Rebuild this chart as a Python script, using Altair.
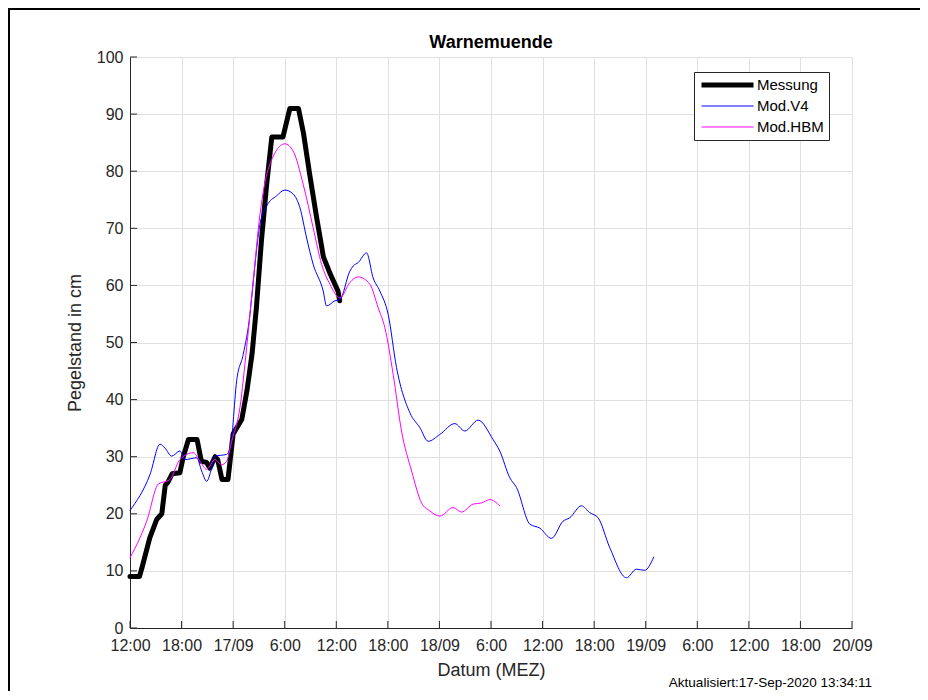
import altair as alt
import pandas as pd

# ---- data (hours since 16/09 12:00, water level in cm) ----
messung_h = [0, 1.1, 1.4, 2.3, 3.1, 3.7, 4.1, 4.4, 4.9, 5.8, 6.2, 6.8, 7.8, 8.3, 8.9, 9.3,
             9.9, 10.2, 10.7, 11.4, 12.0, 12.4, 13.0, 13.6, 14.2, 14.7, 15.3, 15.9, 16.5,
             17.8, 18.6, 19.6, 20.2, 20.9, 21.7, 22.5, 23.3, 24.2, 24.4]
messung_cm = [9, 9, 10.6, 15.8, 19, 20, 25, 25.5, 27, 27.2, 30, 33, 33, 29.2, 29, 28,
              30, 29.5, 26, 26, 34, 35, 36.5, 41.5, 48, 56, 68, 77.7, 86,
              86, 91, 91, 86.5, 79.5, 72, 65, 62, 59, 57.3]

v4_h = [0, 2.33, 3.49, 4.07, 4.85, 5.81, 6.4, 7.76, 8.34, 8.92, 9.5, 9.88, 11.24, 11.83,
        12.0, 12.41, 13.17, 13.95, 14.15, 15.12, 15.9, 17.06, 18.02, 18.99, 19.77, 20.55,
        21.31, 22.48, 22.87, 23.84, 24.42, 25.58, 25.97, 26.55, 27.52, 28.29, 29.07, 30.04,
        31.01, 32.56, 33.72, 34.69, 36.05, 37.79, 38.95, 40.5, 42.24, 43.02, 44.19, 44.97,
        46.51, 47.67, 49.03, 50.38, 51.16, 52.52, 53.49, 54.46, 55.81, 57.76, 58.92, 59.88,
        60.93]
v4_cm = [20.6, 26.9, 32.2, 31.5, 30.1, 31, 29.5, 29.8, 27.5, 25.7, 28, 30.1, 30.4, 32.7,
         36, 43.3, 47.9, 54.9, 57.8, 70.7, 73.9, 75.7, 76.7, 76, 73.6, 68.3,
         63.7, 59, 56.4, 57.3, 57.5, 62.5, 63.4, 64, 65.7, 61.3, 59, 54.9,
         45.6, 37.7, 35.1, 32.7, 33.9, 35.8, 34.5, 36.4, 33, 31, 26.3, 24.6,
         18.2, 17.5, 15.7, 18.7, 19.3, 21.4, 20.2, 19.3, 14.1, 8.8, 10.3, 10.1,
         12.4]

hbm_h = [0, 1.16, 1.94, 3.29, 4.65, 5.81, 7.36, 8.14, 8.92, 9.88, 10.66, 11.24, 11.83,
         12.79, 13.57, 14.34, 15.12, 16.08, 18.02, 18.99, 20.15, 21.31, 22.29, 23.26,
         24.42, 25.58, 26.55, 27.91, 28.87, 29.65, 30.62, 31.59, 32.76, 33.92, 34.88,
         36.05, 37.59, 38.57, 39.92, 40.9, 41.86, 43.02]
hbm_cm = [12.3, 15.8, 18.7, 25.2, 26, 29.5, 30.7, 29.2, 27.8, 29.5, 28.6, 29.2, 32.7,
          38.6, 49.1, 60.8, 72.4, 80.3, 84.8, 83.5, 77.7, 70.1, 63.7, 60.2,
          57.8, 60.5, 61.5, 60.2, 56.1, 52.6, 44.4, 34.5, 27.5, 21.9, 20.5,
          19.6, 21.1, 20.3, 21.7, 21.9, 22.5, 21.4]

series_names = ["Messung", "Mod.V4", "Mod.HBM"]
series_colors = ["#000000", "#0000ff", "#ff00ff"]
series_widths = [5, 1, 1]
series_interp = ["linear", "monotone", "monotone"]

x_tick_hours = list(range(0, 85, 6))
x_tick_labels = ["12:00", "18:00", "17/09", "6:00", "12:00", "18:00", "18/09", "6:00",
                 "12:00", "18:00", "19/09", "6:00", "12:00", "18:00", "20/09"]
y_ticks = list(range(0, 101, 10))

title_text = "Warnemuende"
x_title = "Datum (MEZ)"
y_title = "Pegelstand in cm"
footnote = "Aktualisiert:17-Sep-2020 13:34:11"

FONT = "Liberation Sans"
W, H = 722, 571

# ---- build table ----
frames = []
for name, hs, vs in zip(series_names, [messung_h, v4_h, hbm_h], [messung_cm, v4_cm, hbm_cm]):
    frames.append(pd.DataFrame({"h": hs, "cm": vs, "series": name}))
df = pd.concat(frames, ignore_index=True)

label_js = "[" + ",".join("'" + s + "'" for s in x_tick_labels) + "][round(datum.value/6)]"

x_axis = alt.Axis(values=x_tick_hours, labelExpr=label_js, title=x_title, grid=True,
                  labelFlush=False, labelPadding=9, titlePadding=8)
y_axis = alt.Axis(values=y_ticks, title=y_title, grid=True, labelFlush=False,
                  labelPadding=7, titlePadding=12)
x_scale = alt.Scale(domain=[0, 84], nice=False, zero=False)
y_scale = alt.Scale(domain=[0, 100], nice=False, zero=True)

legend = alt.Legend(title=None, orient="none", legendX=564, legendY=15,
                    symbolType="stroke", symbolSize=2704, clipHeight=16, rowPadding=5,
                    labelFontSize=15, labelFont=FONT, labelColor="#000000", labelOffset=1,
                    strokeColor="#262626", fillColor="#ffffff", padding=5)
color_scale = alt.Scale(domain=series_names, range=series_colors)
width_scale = alt.Scale(type="ordinal", domain=series_names, range=series_widths)

base = alt.Chart(df)
line_layers = []
for s, interp in zip(series_names, series_interp):
    line_layers.append(
        base.transform_filter(alt.datum.series == s)
        .mark_line(strokeJoin="round", strokeCap="round", interpolate=interp)
        .encode(
            x=alt.X("h:Q", scale=x_scale, axis=x_axis),
            y=alt.Y("cm:Q", scale=y_scale, axis=y_axis),
            color=alt.Color("series:N", scale=color_scale, legend=legend),
            strokeWidth=alt.StrokeWidth("series:N", scale=width_scale, legend=legend),
        )
    )

# inward tick marks (MATLAB style)
xt = alt.Chart(pd.DataFrame({"h": x_tick_hours})).mark_rule(color="#262626", strokeWidth=1).encode(
    x=alt.X("h:Q", scale=x_scale, axis=x_axis), y=alt.value(H), y2=alt.value(H - 7))
yt = alt.Chart(pd.DataFrame({"cm": y_ticks})).mark_rule(color="#262626", strokeWidth=1).encode(
    y=alt.Y("cm:Q", scale=y_scale, axis=y_axis), x=alt.value(0), x2=alt.value(7))

one = pd.DataFrame({"t": [footnote], "ttl": [title_text]})
foot = alt.Chart(one).mark_text(font=FONT, fontSize=13.5, align="right", baseline="middle",
                                color="#000000").encode(
    text="t:N", x=alt.value(742), y=alt.value(626))
ttl = alt.Chart(one).mark_text(font=FONT, fontSize=18, fontWeight="bold", align="center",
                               baseline="middle", color="#000000").encode(
    text="ttl:N", x=alt.value(W / 2), y=alt.value(-14))

# outer figure frame (left and top edges visible in the reference)
frame_left = alt.Chart(one).mark_rule(color="#000000", strokeWidth=2).encode(
    x=alt.value(-121), y=alt.value(-48), y2=alt.value(H + 64))
frame_top = alt.Chart(one).mark_rule(color="#000000", strokeWidth=2).encode(
    x=alt.value(-122), x2=alt.value(W + 68), y=alt.value(-48))

chart = alt.layer(xt, yt, *line_layers, foot, ttl, frame_left, frame_top).properties(
    width=W, height=H,
    padding={"left": 122, "top": 49, "right": 68, "bottom": 63},
    autosize=alt.AutoSizeParams(type="none"),
    background="#ffffff",
).configure_view(stroke=None).configure_axis(
    domainColor="#262626", domainWidth=1, labelColor="#262626", titleColor="#262626",
    tickSize=0, labelFont=FONT, titleFont=FONT, labelFontSize=16, titleFontSize=18,
    titleFontWeight="normal", gridColor="#e0e0e0", gridWidth=1,
)

chart.save("out.html", embed_options={"renderer": "svg", "actions": False})
